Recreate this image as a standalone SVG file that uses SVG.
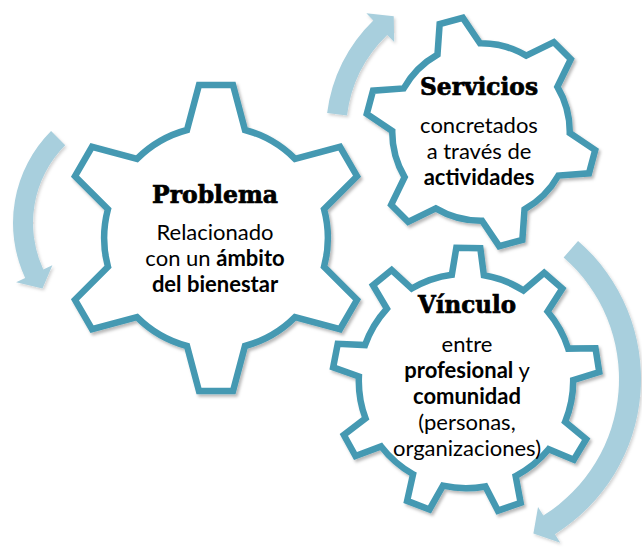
<svg xmlns="http://www.w3.org/2000/svg" width="642" height="555" viewBox="0 0 642 555">
  <defs>
    <filter id="sh" x="-10%" y="-10%" width="125%" height="125%">
      <feDropShadow dx="2" dy="2.5" stdDeviation="1.8" flood-color="#000" flood-opacity="0.28"/>
    </filter>
    <filter id="ash" x="-20%" y="-20%" width="150%" height="150%">
      <feDropShadow dx="1.5" dy="2" stdDeviation="1.5" flood-color="#000" flood-opacity="0.18"/>
    </filter>
  </defs>
  <style>
    .gear { fill: #ffffff; stroke: #4599b2; stroke-width: 6.5; stroke-linejoin: miter; filter: url(#sh); }
    .arrow { fill: #a8cfdd; stroke: none; filter: url(#ash); }
    .title { font-family: "DejaVu Serif", "Liberation Serif", serif; font-weight: bold; font-size: 24px; fill: #000; stroke: #000; stroke-width: 0.7; text-anchor: middle; }
    .body { font-family: Lato, "Liberation Sans", sans-serif; font-size: 22px; fill: #000; text-anchor: middle; }
    .b { font-weight: bold; }
  </style>

  <g id="connectors">
    <path class="arrow" d="M65.22,145.22 A110,110 0 0 0 43.31,269.49 L52.37,265.26 L42.5,288.5 L16.12,282.16 L25.18,277.94 A130,130 0 0 1 51.08,131.08 Z"/>
    <path class="arrow" d="M347.01,115.55 A135,135 0 0 1 387.22,34.89 L394.17,42.08 L393.74,16.20 L366.38,13.31 L373.33,20.50 A155,155 0 0 0 327.15,113.11 Z"/>
    <path class="arrow" d="M563.63,257.49 A161,161 0 0 1 543.32,515.54 L538.02,507.06 L533.40,533.59 L560.27,542.67 L554.98,534.19 A183,183 0 0 0 578.06,240.89 Z"/>
  </g>

  <g id="problema">
    <path class="gear" d="M187,130 L199,85 L233,85 L245,130 A111.8,111.8 0 0 1 295.03,158.89 L340,146.78 L357,176.22 L324.03,209.11 A111.8,111.8 0 0 1 324.03,266.89 L357,299.78 L340,329.22 L295.03,317.11 A111.8,111.8 0 0 1 245,346 L233,391 L199,391 L187,346 A111.8,111.8 0 0 1 136.97,317.11 L92,329.22 L75,299.78 L107.97,266.89 A111.8,111.8 0 0 1 107.97,209.11 L75,176.22 L92,146.78 L136.97,158.89 A111.8,111.8 0 0 1 187,130 Z"/>
    <text class="title" x="215" y="203" textLength="126" lengthAdjust="spacingAndGlyphs">Problema</text>
    <text class="body" x="215" y="240">Relacionado</text>
    <text class="body" x="215" y="266">con un <tspan class="b">ámbito</tspan></text>
    <text class="body b" x="215" y="292">del bienestar</text>
  </g>

  <g id="servicios">
    <path class="gear" d="M437.49,54.62 L439.65,24.03 L462.83,17.81 L479.99,43.24 A88.77,88.77 0 0 1 526.25,55.63 L553.83,42.19 L570.81,59.17 L557.37,86.75 A88.77,88.77 0 0 1 569.76,133.01 L595.19,150.17 L588.97,173.35 L558.38,175.51 A88.77,88.77 0 0 1 524.51,209.38 L522.35,239.97 L499.17,246.19 L482.01,220.76 A88.77,88.77 0 0 1 435.75,208.37 L408.17,221.81 L391.19,204.83 L404.63,177.25 A88.77,88.77 0 0 1 392.24,130.99 L366.81,113.83 L373.03,90.65 L403.62,88.49 A88.77,88.77 0 0 1 437.49,54.62 Z"/>
    <text class="title" x="479" y="95" textLength="118" lengthAdjust="spacingAndGlyphs">Servicios</text>
    <text class="body" x="479" y="133">concretados</text>
    <text class="body" x="479" y="159">a través de</text>
    <text class="body b" x="479" y="185">actividades</text>
  </g>

  <g id="vinculo">
    <path class="gear" d="M451.85,274.74 L456.32,247.81 L480.32,248.23 L483.85,275.30 A107.2,107.2 0 0 1 523.46,290.50 L544.20,272.75 L562.32,288.49 L547.62,311.50 A107.2,107.2 0 0 1 568.20,348.62 L595.48,348.34 L599.24,372.04 L573.20,380.22 A107.2,107.2 0 0 1 565.10,421.88 L586.18,439.21 L573.82,459.79 L548.62,449.30 A107.2,107.2 0 0 1 515.64,476.02 L520.65,502.84 L497.95,510.66 L485.38,486.44 A107.2,107.2 0 0 1 442.95,485.69 L429.54,509.47 L407.14,500.87 L413.07,474.23 A107.2,107.2 0 0 1 381.05,446.38 L355.50,455.98 L343.86,434.98 L365.53,418.40 A107.2,107.2 0 0 1 358.90,376.48 L333.15,367.40 L337.73,343.84 L365.00,345.06 A107.2,107.2 0 0 1 386.86,308.69 L372.97,285.19 L391.63,270.09 L411.72,288.55 A107.2,107.2 0 0 1 451.85,274.74 Z"/>
    <text class="title" x="467" y="313" textLength="98" lengthAdjust="spacingAndGlyphs">Vínculo</text>
    <text class="body" x="467" y="352">entre</text>
    <text class="body" x="467" y="378"><tspan class="b">profesional</tspan> y</text>
    <text class="body b" x="467" y="404">comunidad</text>
    <text class="body" x="467" y="430">(personas,</text>
    <text class="body" x="467" y="456">organizaciones)</text>
  </g>
</svg>
